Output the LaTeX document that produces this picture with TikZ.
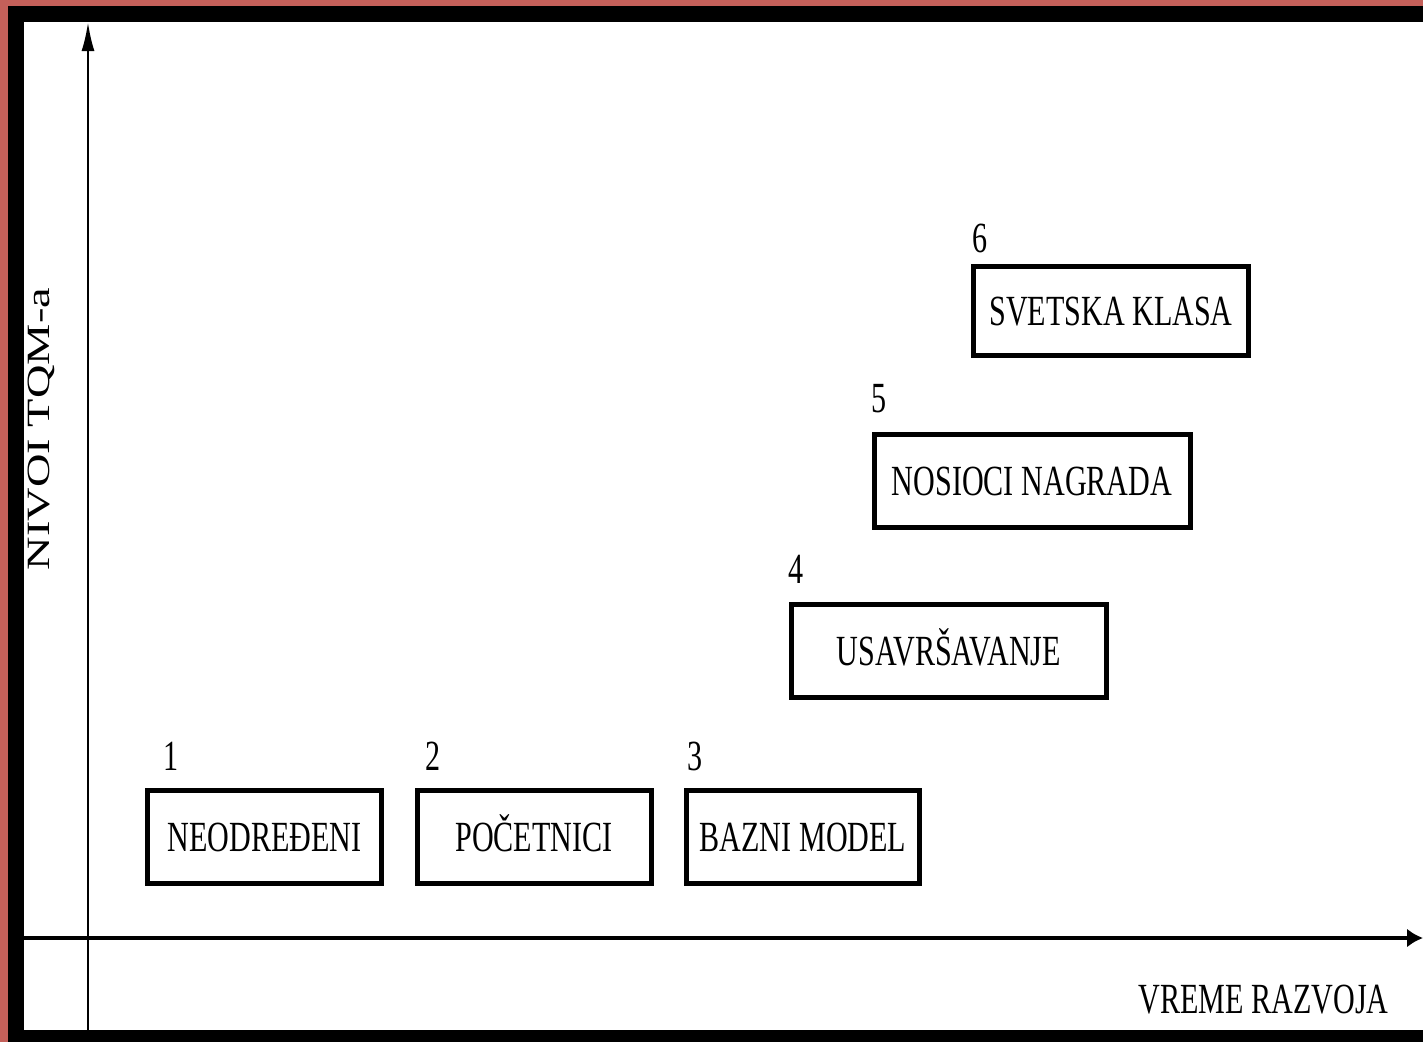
\documentclass[tikz,border=0pt]{standalone}
\usepackage{fontspec}
\usepackage{graphicx}
\setmainfont{Liberation Serif}
\usetikzlibrary{arrows.meta}
\definecolor{frame}{RGB}{196,96,90}
\newcommand{\sqz}[1]{\scalebox{0.7}[1]{#1}}
\tikzset{
  lbl/.style={font=\fontsize{43}{50}\selectfont, inner sep=0pt, text height=28.5pt, text depth=0pt},
  stagebox/.style={lbl, draw, line width=5pt, minimum height=93pt},
  digit/.style={font=\fontsize{43}{50}\selectfont, inner sep=0pt, anchor=base},
  axis/.style={draw, black}
}
\begin{document}
\begin{tikzpicture}[x=1pt,y=-1pt]
\useasboundingbox (0,0) rectangle (1423,1042);
% frame
\fill[frame] (0,0) rectangle (1423,1042);
\fill[black] (8,6) rectangle (1423,1042);
\fill[white] (24,22) rectangle (1423,1030);
% axes
\coordinate (ybot) at (88,1030);
\coordinate (ytop) at (88,22);
\coordinate (xleft) at (24,938);
\coordinate (xright) at (1423,938);
\draw[axis, line width=2.5pt, -{Latex[length=29pt,width=13pt]}] (ybot) -- (ytop);
\draw[axis, line width=4.5pt, -{Latex[length=16pt,width=19pt]}] (xleft) -- (xright);
% axis labels
\node[inner sep=0pt] (ylab) at (41,429) {\scalebox{0.7}[1]{\rotatebox{90}{\fontsize{46.4}{52}\selectfont NIVOI TQM-a}}};
\node[lbl] (xlab) at (1263.5,999) {\sqz{VREME RAZVOJA}};
% boxes
\node[stagebox, minimum width=234pt] (b1) at (264.5,837) {\sqz{NEODREĐENI}};
\node[stagebox, minimum width=234pt] (b2) at (534,837) {\sqz{POČETNICI}};
\node[stagebox, minimum width=233pt] (b3) at (803,837) {\sqz{BAZNI MODEL}};
\node[stagebox, minimum width=315pt] (b4) at (949,651) {\sqz{USAVRŠAVANJE}};
\node[stagebox, minimum width=316pt] (b5) at (1032,481) {\sqz{NOSIOCI NAGRADA}};
\node[stagebox, minimum width=275pt, minimum height=89pt] (b6) at (1111,311) {\sqz{SVETSKA KLASA}};
% numbers
\node[digit] (n1) at (171,770) {\sqz{1}};
\node[digit] (n2) at (433,770) {\sqz{2}};
\node[digit] (n3) at (695,770) {\sqz{3}};
\node[digit] (n4) at (796.5,583) {\sqz{4}};
\node[digit] (n5) at (879,412) {\sqz{5}};
\node[digit] (n6) at (980,252) {\sqz{6}};
\end{tikzpicture}
\end{document}
